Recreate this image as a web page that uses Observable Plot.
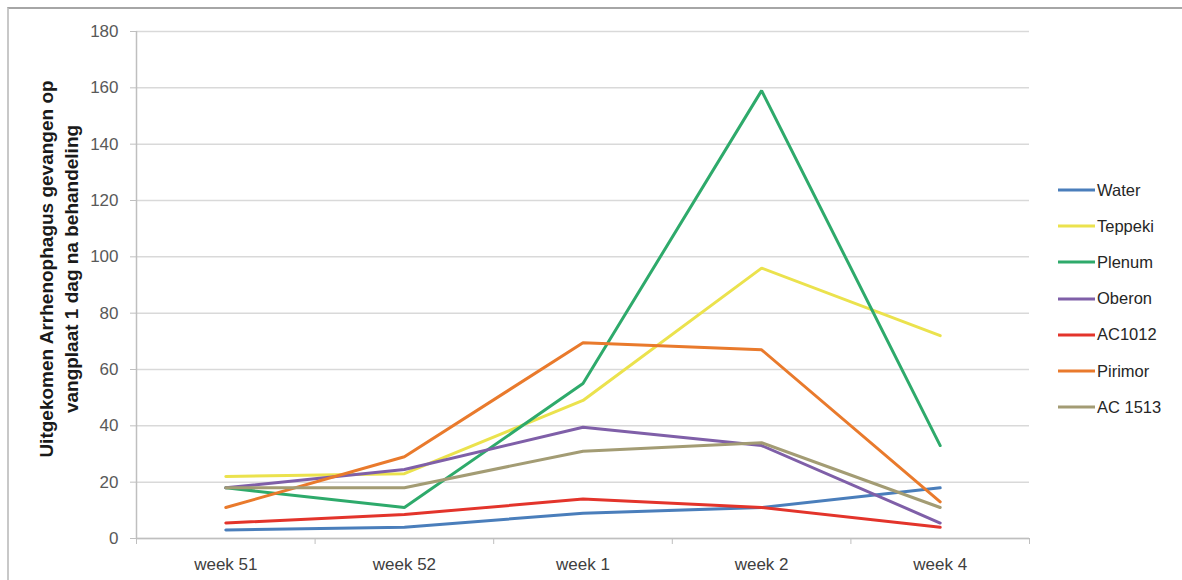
<!DOCTYPE html>
<html>
<head>
<meta charset="utf-8">
<script src="https://cdn.jsdelivr.net/npm/d3@7"></script>
<script src="https://cdn.jsdelivr.net/npm/@observablehq/plot@0.6"></script>
<style>
  html, body { margin: 0; padding: 0; background: #fff; }
  #wrap { position: relative; width: 1182px; height: 580px; overflow: hidden; }
  #frame { position: absolute; left: 7px; top: 7px; width: 1200px; height: 600px;
           border-top: 2px solid #a6a6a6; border-left: 2px solid #c8c8c8; pointer-events: none; }
  #legend { position: absolute; left: 1058px; top: 172px; font-family: "Liberation Sans", Arial, sans-serif;
            font-size: 16.5px; color: #262626; }
  #legend .item { display: flex; align-items: center; height: 36.2px; }
  #legend svg { margin-right: 2px; }
</style>
</head>
<body>
<div id="wrap"><div id="frame"></div><div id="legend"></div></div>
<script>
const weeks = ["week 51", "week 52", "week 1", "week 2", "week 4"];
const seriesNames = ["Water", "Teppeki", "Plenum", "Oberon", "AC1012", "Pirimor", "AC 1513"];
const seriesColors = ["#4a7ebb", "#ebe24d", "#2eaa6b", "#7f5fa8", "#e3342b", "#e97a2c", "#a39c74"];
const water   = [3, 4, 9, 11, 18];
const teppeki = [22, 23, 49, 96, 72];
const plenum  = [18, 11, 55, 159, 33];
const oberon  = [18, 24.5, 39.5, 33, 5.5];
const ac1012  = [5.5, 8.5, 14, 11, 4];
const pirimor = [11, 29, 69.5, 67, 13];
const ac1513  = [18, 18, 31, 34, 11];
const yTicks = [0, 20, 40, 60, 80, 100, 120, 140, 160, 180];
const yTitle = "Uitgekomen Arrhenophagus gevangen op\nvangplaat 1 dag na behandeling";

const valuesBySeries = [water, teppeki, plenum, oberon, ac1012, pirimor, ac1513];
const data = [];
seriesNames.forEach((s, si) => {
  valuesBySeries[si].forEach((v, i) => data.push({series: s, week: i, value: v}));
});
const weekIdx = weeks.map((w, i) => i);
const bounds = weeks.map((w, i) => i - 0.5).concat([weeks.length - 0.5]);

const font = `"Liberation Sans", Arial, sans-serif`;

const chart = Plot.plot({
  width: 1182,
  height: 580,
  marginLeft: 136,
  marginRight: 153,
  marginTop: 31,
  marginBottom: 42,
  style: {fontFamily: font, fontSize: "17px", background: "transparent"},
  x: {domain: [-0.5, weeks.length - 0.5]},
  y: {domain: [0, 180]},
  color: {domain: seriesNames, range: seriesColors},
  marks: [
    Plot.gridY(yTicks, {stroke: "#d9d9d9", strokeOpacity: 1, strokeWidth: 1.5}),
    Plot.axisY({ticks: yTicks, tickSize: 6, tickPadding: 12, stroke: "#bfbfbf", color: "#595959", label: null, fontSize: 17}),
    Plot.axisX({ticks: bounds, tickFormat: () => "", tickSize: 6, stroke: "#bfbfbf", label: null}),
    Plot.axisX({ticks: weekIdx, tickFormat: i => weeks[i], tickSize: 0, tickPadding: 19, color: "#404040", label: null, fontSize: 17}),
    Plot.ruleX([-0.5], {stroke: "#bfbfbf", strokeWidth: 1.5}),
    Plot.ruleY([0], {stroke: "#bfbfbf", strokeWidth: 1.5}),
    Plot.line(data, {x: "week", y: "value", z: "series", stroke: "series", strokeWidth: 3, strokeLinejoin: "miter"}),
    Plot.text([yTitle], {frameAnchor: "left", rotate: -90, dx: -79, dy: -16, fontWeight: "bold", fontSize: 19, lineHeight: 1.3, fill: "#1a1a1a", textAnchor: "middle"})
  ]
});
document.getElementById("wrap").prepend(chart);

const legend = document.getElementById("legend");
seriesNames.forEach((s, i) => {
  const item = document.createElement("div");
  item.className = "item";
  item.innerHTML = `<svg width="37" height="6"><line x1="0" y1="3" x2="37" y2="3" stroke="${seriesColors[i]}" stroke-width="3"/></svg><span>${s}</span>`;
  legend.appendChild(item);
});
</script>
</body>
</html>
